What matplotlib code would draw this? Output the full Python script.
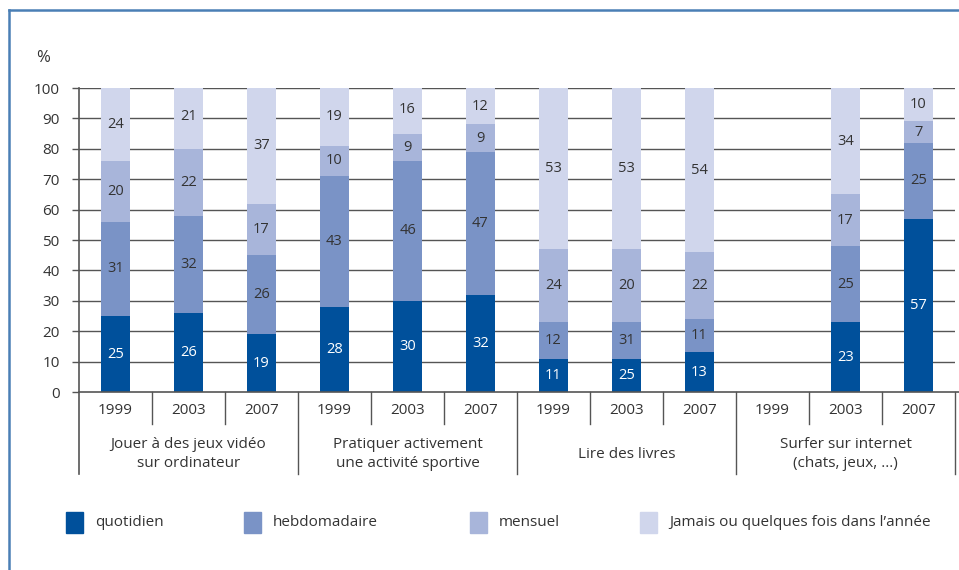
import matplotlib.pyplot as plt
from matplotlib.lines import Line2D
from matplotlib.patches import Rectangle

plt.rcParams['font.family'] = ['Open Sans', 'DejaVu Sans']

years = ['1999', '2003', '2007'] * 4
groups = ['Jouer à des jeux vidéo\nsur ordinateur',
          'Pratiquer activement\nune activité sportive',
          'Lire des livres',
          'Surfer sur internet\n(chats, jeux, ...)']
series = ['quotidien', 'hebdomadaire', 'mensuel', 'Jamais ou quelques fois dans l\u2019année']
colors = ['#00509b', '#7a93c6', '#a8b5da', '#d0d6ec']

# bar heights (as drawn)
quotidien = [25, 26, 19, 28, 30, 32, 11, 11, 13, 0, 23, 57]
hebdomadaire = [31, 32, 26, 43, 46, 47, 12, 12, 11, 0, 25, 25]
mensuel = [20, 22, 17, 10, 9, 9, 24, 24, 22, 0, 17, 7]
jamais = [24, 21, 38, 19, 16, 12, 53, 53, 54, 0, 35, 11]

# printed labels (differ from heights for "Lire des livres" 2003)
lab_quotidien = ['25', '26', '19', '28', '30', '32', '11', '25', '13', '', '23', '57']
lab_hebdomadaire = ['31', '32', '26', '43', '46', '47', '12', '31', '11', '', '25', '25']
lab_mensuel = ['20', '22', '17', '10', '9', '9', '24', '20', '22', '', '17', '7']
lab_jamais = ['24', '21', '37', '19', '16', '12', '53', '53', '54', '', '34', '10']

W, H = 959, 570
fig = plt.figure(figsize=(W / 100, H / 100), dpi=100)
ax = fig.add_axes([79 / W, (H - 392) / H, 876 / W, 304 / H])

txt = '#333333'
grid = '#555555'
fs = 11
x = list(range(len(years)))
ax.set_xlim(-0.5, 11.5)
ax.set_ylim(0, 100)
for v in range(10, 101, 10):
    ax.axhline(v, color=grid, lw=1, zorder=0)

heights = [quotidien, hebdomadaire, mensuel, jamais]
labels = [lab_quotidien, lab_hebdomadaire, lab_mensuel, lab_jamais]
bottom = [0] * len(x)
for k in range(4):
    ax.bar(x, heights[k], bottom=bottom, width=0.41, color=colors[k], zorder=2)
    for i in x:
        if labels[k][i]:
            ax.text(i, bottom[i] + heights[k][i] / 2, labels[k][i], ha='center', va='center',
                    fontsize=10.5, color='white' if k == 0 else txt, zorder=3)
    bottom = [b + h for b, h in zip(bottom, heights[k])]

for s in ax.spines.values():
    s.set_visible(False)
ax.set_xticks([])
ax.set_yticks(range(0, 101, 10))
ax.tick_params(axis='y', length=5, width=1, color=grid, labelsize=fs, labelcolor=txt, pad=9)

# axis lines and category separators
ax.plot([-0.5, 11.6], [0, 0], color=grid, lw=1.2, clip_on=False, zorder=4)
ax.plot([-0.5, -0.5], [100, -27], color=grid, lw=1.2, clip_on=False, zorder=4)
for xs in [0.5, 1.5, 3.5, 4.5, 6.5, 7.5, 9.5, 10.5]:
    ax.plot([xs, xs], [0, -10.5], color=grid, lw=1, clip_on=False)
for xs in [2.5, 5.5, 8.5, 11.5]:
    ax.plot([xs, xs], [0, -27], color=grid, lw=1, clip_on=False)
for i in x:
    ax.text(i, -6.2, years[i], ha='center', va='center', fontsize=fs, color=txt)
for g in range(4):
    ax.text(3 * g + 1, -20.5, groups[g], ha='center', va='center', fontsize=fs,
            color=txt, linespacing=1.35)

fig.text(43 / W, 1 - 58 / H, '%', ha='center', va='center', fontsize=12, color=txt)

# legend
leg_sq = [66, 244, 470, 640]
for k in range(4):
    fig.patches.append(Rectangle((leg_sq[k] / W, 1 - 533 / H), 17 / W, 21 / H,
                                 transform=fig.transFigure, color=colors[k]))
    fig.text((leg_sq[k] + 29) / W, 1 - 523 / H, series[k], ha='left', va='center',
             fontsize=fs, color=txt)

# frame
frame = '#4a7fb5'
fig.lines.append(Line2D([9 / W, 1], [1 - 10 / H, 1 - 10 / H], transform=fig.transFigure,
                        color=frame, lw=1.8))
fig.lines.append(Line2D([9 / W, 9 / W], [0, 1 - 10 / H], transform=fig.transFigure,
                        color=frame, lw=1.8))

fig.savefig('out.png', dpi=100)
